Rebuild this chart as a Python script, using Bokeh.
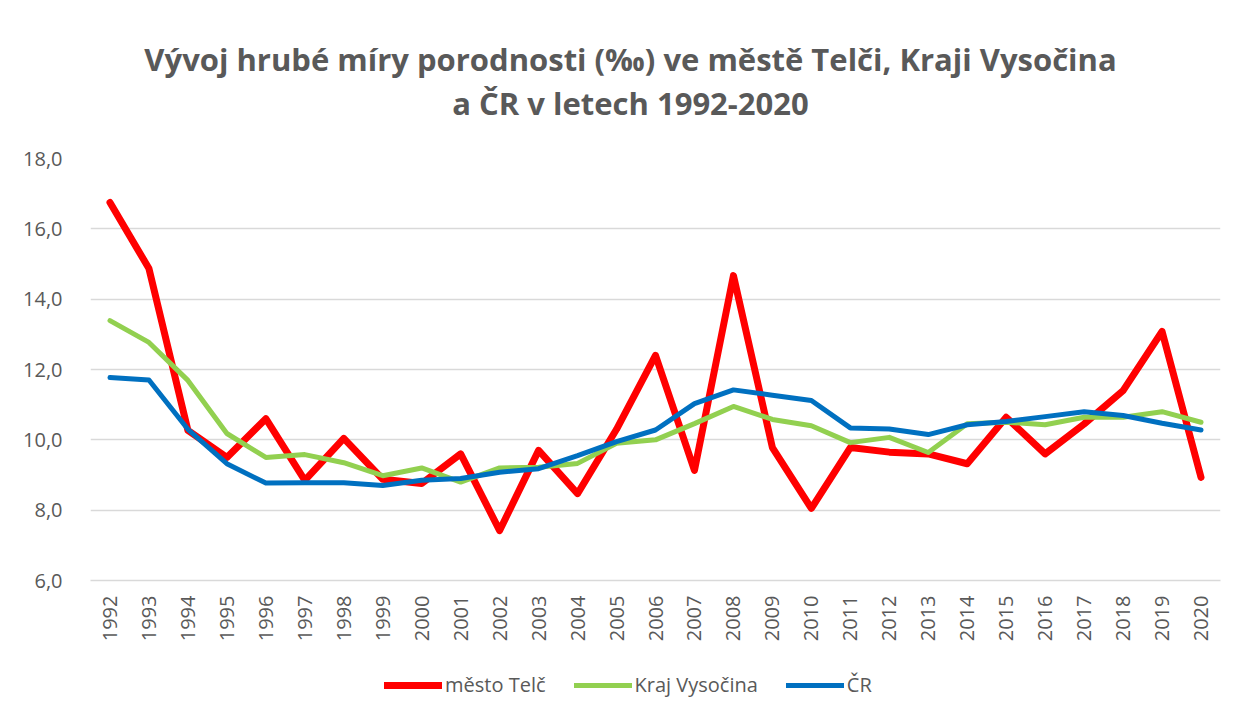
import math
from bokeh.plotting import figure
from bokeh.layouts import column
from bokeh.models import ColumnDataSource, Legend, LegendItem, FixedTicker, Range1d, Label
from bokeh.embed import file_html
from bokeh.resources import INLINE

years = list(range(1992, 2021))
telc = [16.75, 14.87, 10.27, 9.50, 10.60, 8.85, 10.04, 8.88, 8.76, 9.60,
        7.42, 9.70, 8.47, 10.30, 12.40, 9.13, 14.67, 9.78, 8.05, 9.78,
        9.65, 9.60, 9.32, 10.64, 9.60, 10.45, 11.40, 13.08, 8.93]
vysocina = [13.39, 12.77, 11.69, 10.18, 9.50, 9.58, 9.35, 8.98, 9.20, 8.80,
            9.20, 9.22, 9.33, 9.90, 10.00, 10.46, 10.95, 10.58, 10.40, 9.92,
            10.07, 9.64, 10.46, 10.50, 10.43, 10.64, 10.64, 10.80, 10.50]
cr = [11.77, 11.70, 10.30, 9.32, 8.77, 8.78, 8.78, 8.70, 8.85, 8.90,
      9.08, 9.18, 9.55, 9.95, 10.28, 11.03, 11.42, 11.27, 11.12, 10.34,
      10.31, 10.15, 10.43, 10.52, 10.66, 10.80, 10.69, 10.47, 10.28]
y_ticks = [6, 8, 10, 12, 14, 16, 18]
y_tick_labels = ["6,0", "8,0", "10,0", "12,0", "14,0", "16,0", "18,0"]
series_names = ["město Telč", "Kraj Vysočina", "ČR"]
series_cols = ["telc", "vys", "cr"]
series_colors = ["#FF0000", "#92D050", "#0070C0"]
series_widths = [7, 5, 5]
title_lines = ["Vývoj hrubé míry porodnosti (‰) ve městě Telči, Kraji Vysočina",
               "a ČR v letech 1992-2020"]

src = ColumnDataSource(dict(x=years, telc=telc, vys=vysocina, cr=cr))

GREY = "#595959"
FONT = "Open Sans"

# ---- title strip ----
p0 = figure(width=1230, height=146, output_backend="svg", toolbar_location=None, title=None,
            x_range=Range1d(0, 1), y_range=Range1d(0, 1),
            min_border_left=0, min_border_right=0, min_border_top=0, min_border_bottom=0,
            x_axis_location=None, y_axis_location=None)
p0.outline_line_color = None
p0.grid.visible = False
for txt, ty in zip(title_lines, [88, 44]):
    p0.add_layout(Label(x=540, y=ty, x_units="screen", y_units="screen", text=txt,
                        text_align="center", text_baseline="middle", text_font=FONT,
                        text_font_size="31px", text_font_style="bold", text_color=GREY))

# ---- main chart ----
p = figure(width=1230, height=514, output_backend="svg", toolbar_location=None, title=None,
           x_range=Range1d(years[0] - 0.5, years[-1] + 0.5),
           y_range=Range1d(6, 18),
           min_border_left=90, min_border_right=10, min_border_top=12,
           min_border_bottom=80)

p.outline_line_color = None
p.background_fill_color = "white"
p.border_fill_color = "white"

p.xgrid.grid_line_color = None
p.ygrid.grid_line_color = "#d9d9d9"
p.ygrid.grid_line_width = 1.5

p.yaxis.ticker = FixedTicker(ticks=y_ticks)
p.yaxis.major_label_overrides = {t: l for t, l in zip(y_ticks, y_tick_labels)}
p.yaxis.axis_line_color = None
p.yaxis.major_tick_line_color = None
p.yaxis.minor_tick_line_color = None
p.yaxis.major_label_text_font = FONT
p.yaxis.major_label_text_font_size = "20px"
p.yaxis.major_label_text_color = GREY
p.yaxis.major_label_standoff = 22

p.xaxis.ticker = FixedTicker(ticks=years)
p.xaxis.major_label_orientation = math.pi / 2
p.xaxis.axis_line_color = "#d9d9d9"
p.xaxis.axis_line_width = 1.5
p.xaxis.major_tick_line_color = None
p.xaxis.minor_tick_line_color = None
p.xaxis.major_tick_out = 0
p.xaxis.major_tick_in = 0
p.xaxis.minor_tick_out = 0
p.xaxis.major_label_text_font = FONT
p.xaxis.major_label_text_font_size = "20px"
p.xaxis.major_label_text_color = GREY
p.xaxis.major_label_standoff = 15

for col, c, w in zip(series_cols, series_colors, series_widths):
    p.line("x", col, source=src, line_color=c, line_width=w, line_join="round", line_cap="round")

# ---- legend strip ----
p2 = figure(width=1230, height=50, output_backend="svg", toolbar_location=None, title=None,
            x_range=Range1d(0, 1), y_range=Range1d(0, 1),
            min_border_left=0, min_border_right=0, min_border_top=0, min_border_bottom=0,
            x_axis_location=None, y_axis_location=None)
p2.outline_line_color = None
p2.grid.visible = False
items = []
for name, col, c, w in zip(series_names, series_cols, series_colors, series_widths):
    r = p2.line("x", col, source=src, line_color=c, line_width=w, line_cap="round")
    items.append(LegendItem(label=name, renderers=[r]))
legend = Legend(items=items, orientation="horizontal", location=(294, 12),
                glyph_width=58, glyph_height=20, spacing=28, label_standoff=3,
                label_text_font=FONT, label_text_font_size="20px", label_text_color=GREY,
                border_line_color=None, background_fill_alpha=0, margin=0, padding=0)
p2.add_layout(legend, "center")

layout = column(p0, p, p2, spacing=0)
open("out.html", "w").write(file_html(layout, INLINE))
